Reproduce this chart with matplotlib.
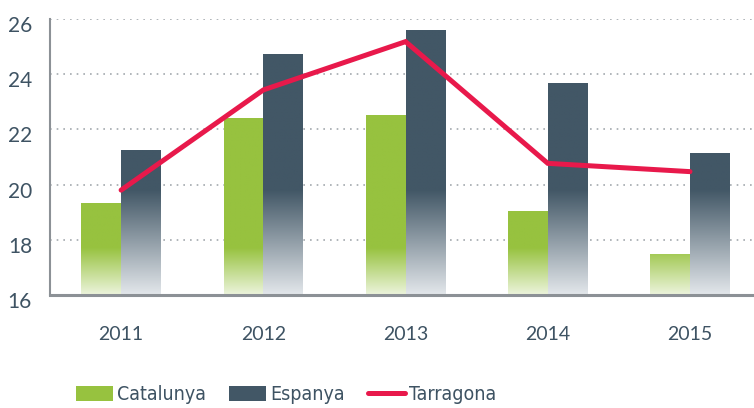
import numpy as np
import matplotlib
matplotlib.use("Agg")
import matplotlib.pyplot as plt
from matplotlib.colors import LinearSegmentedColormap
from matplotlib.patches import Patch
from matplotlib.lines import Line2D
import matplotlib.transforms as mtransforms
from matplotlib import font_manager as fm

years = ["2011", "2012", "2013", "2014", "2015"]
catalunya = [19.32, 22.41, 22.51, 19.04, 17.49]
espanya = [21.25, 24.73, 25.60, 23.67, 21.16]
tarragona = [19.8, 23.43, 25.18, 20.77, 20.47]
series_names = ["Catalunya", "Espanya", "Tarragona"]
yticks = [16, 18, 20, 22, 24, 26]

green = "#97c23f"
dark = "#425766"
red = "#e8194b"
text_col = "#3e5363"

plt.rcParams["font.family"] = ["Lato", "DejaVu Sans"]

fig = plt.figure(figsize=(7.54, 4.08), dpi=100)
ax = fig.add_axes([50 / 754, 113 / 408, 704 / 754, 276 / 408])

x = np.arange(len(years))
w = 0.28
ymin, ymax = 16, 26

def grad_cmap(top, bottom, fade_top):
    frac = (fade_top - ymin) / (ymax - ymin)
    return LinearSegmentedColormap.from_list(
        "g", [(0.0, bottom), (frac, top), (1.0, top)])

cm_green = grad_cmap(green, "#ecf4dc", 17.7)
cm_dark = grad_cmap(dark, "#e3e7eb", 19.8)
grad = np.linspace(0, 1, 256).reshape(-1, 1)

bars_c = ax.bar(x - w / 2, catalunya, w, bottom=0, color="none", edgecolor="none", zorder=2)
bars_e = ax.bar(x + w / 2, espanya, w, bottom=0, color="none", edgecolor="none", zorder=2)

for bars, cm in ((bars_c, cm_green), (bars_e, cm_dark)):
    for b in bars:
        x0 = b.get_x()
        im = ax.imshow(grad, cmap=cm, origin="lower", aspect="auto",
                       extent=[x0, x0 + b.get_width(), ymin, ymax],
                       zorder=2, interpolation="bilinear")
        im.set_clip_path(b)

ax.set_xlim(-0.5, 4.45)
ax.set_ylim(ymin, ymax)

ax.plot(x, tarragona, color=red, lw=3.6, solid_capstyle="round",
        solid_joinstyle="miter", zorder=4)

for s in ("top", "right"):
    ax.spines[s].set_visible(False)
ax.spines["left"].set_color("#8c9196")
ax.spines["left"].set_linewidth(1.5)
ax.spines["bottom"].set_color("#8c9196")
ax.spines["bottom"].set_linewidth(2.2)
ax.spines["bottom"].set_zorder(5)

ax.set_yticks(yticks)
ax.set_yticklabels([str(t) for t in yticks])
ax.set_xticks(x)
ax.set_xticklabels(years)
ax.tick_params(axis="both", length=0, colors=text_col)
ax.tick_params(axis="y", pad=13, labelsize=15)
ax.tick_params(axis="x", pad=22, labelsize=14)
off = mtransforms.ScaledTranslation(0, -5 / 100, fig.dpi_scale_trans)
for lab in ax.get_yticklabels():
    lab.set_transform(lab.get_transform() + off)

ax.yaxis.grid(True, color="#a3a9ae", lw=1.2, linestyle=(0, (1, 3)), zorder=1)
ax.set_axisbelow(True)

cond = fm.FontProperties(family="DejaVu Sans", stretch="condensed", size=14)

handles = [Patch(facecolor=green, edgecolor="none"),
           Patch(facecolor=dark, edgecolor="none"),
           Line2D([0], [0], color=red, lw=3.6, solid_capstyle="round")]
leg = fig.legend(handles, series_names, loc="center left",
                 bbox_to_anchor=(68 / 754, 1 - 395 / 408), ncol=3, frameon=False,
                 prop=cond, handlelength=1.9, handleheight=0.77,
                 handletextpad=0.2, columnspacing=1.2, borderaxespad=0)
for t in leg.get_texts():
    t.set_color(text_col)

fig.savefig("out.png", dpi=100)
